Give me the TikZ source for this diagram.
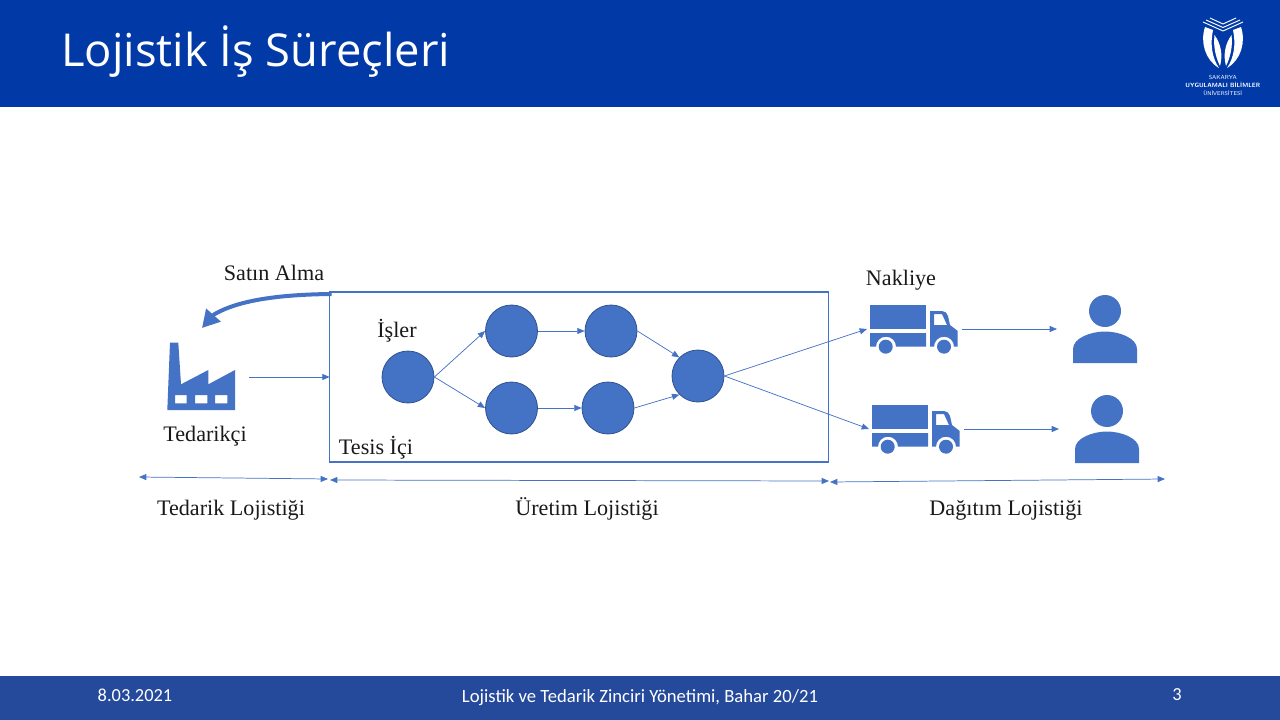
\documentclass[tikz,border=0pt]{standalone}
\usepackage{fontspec}
\setmainfont{Liberation Serif}
\newfontfamily\titlefont{Open Sans}
\newfontfamily\footfont{Carlito}
\usetikzlibrary{arrows.meta, positioning}
\definecolor{sbublue}{RGB}{1,58,167}
\definecolor{footblue}{RGB}{37,74,155}
\definecolor{lojblue}{RGB}{68,114,196}
\definecolor{lojdark}{RGB}{47,82,143}
\tikzset{
  is/.style={circle, fill=lojblue, draw=lojdark, line width=0.6pt, minimum size=39pt, inner sep=0pt},
  icon/.style={minimum width=#1, inner sep=0pt, outer sep=0pt},
  etiket/.style={font=\fontsize{16.6}{19}\selectfont, text=black!90, inner sep=0pt, anchor=base},
  ok/.style={lojblue, line width=0.55pt, -{Triangle[length=5.5pt, width=4.5pt]}},
  ciftok/.style={lojblue, line width=0.55pt, {Triangle[length=5.5pt, width=4.5pt]}-{Triangle[length=5.5pt, width=4.5pt]}},
  kamyon/.pic={
    \fill[lojblue] (0,0) rectangle (56,23.5);
    \fill[lojblue] (0,28) -- (56,28) -- (56,41.7) -- (26,41.7)
      arc[start angle=0, end angle=-180, radius=10] -- (5.7,41.7) -- (0,41.7) -- cycle;
    \fill[lojblue, even odd rule] (60,6) -- (72,6) .. controls (75,6) and (77,8) .. (78,11)
      -- (80,20) -- (87.7,26) -- (87.7,41.7) -- (84,41.7)
      arc[start angle=0, end angle=-180, radius=10] -- (60,41.7) -- cycle
      (64,9) -- (72,9) -- (77,20) -- (64,20) -- cycle;
    \fill[lojblue] (15.7,41.7) circle (7);
    \fill[lojblue] (74,41.7) circle (7);
  },
  kisi/.pic={
    \fill[lojblue] (0,-18) circle (16);
    \fill[lojblue] (-32,34) -- (32,34) -- (32,20) .. controls (32,9) and (14,2.5) .. (0,2.5)
      .. controls (-14,2.5) and (-32,9) .. (-32,20) -- cycle;
  }
}

\begin{document}
\begin{tikzpicture}[x=0.75pt, y=-0.75pt]
  \useasboundingbox (0,0) rectangle (1280,720);

  % Header and footer bands
  \fill[sbublue] (0,0) rectangle (1280,107.5);
  \fill[footblue] (0,676) rectangle (1280,720);
  \node[anchor=west, text=white, inner sep=0pt, font=\titlefont\fontsize{34}{40}\selectfont]
    (baslik) at (61,52) {Lojistik İş Süreçleri};
  \node[text=white, inner sep=0pt, font=\footfont\fontsize{13.8}{15}\selectfont] (tarih) at (135,695) {8.03.2021};
  \node[text=white, inner sep=0pt, font=\footfont\fontsize{14}{15}\selectfont] (ders) at (640,698) {Lojistik ve Tedarik Zinciri Yönetimi, Bahar 20/21};
  \node[text=white, inner sep=0pt, font=\footfont\fontsize{13.8}{15}\selectfont] (sayfa) at (1177,695) {3};

  % Logo
  \foreach \s in {1,-1} {
    \begin{scope}[shift={(1223,0)}, xscale=\s]
      \fill[white] (18,27) .. controls (23,42) and (18,60) .. (4,68)
        .. controls (11,58) and (13,44) .. (10,30) -- cycle;
      \fill[white] (8.5,35) .. controls (10,47) and (7,58) .. (3,66)
        .. controls (0,55) and (2,44) .. (8.5,35);
      \draw[white, line width=0.7pt] (0,31) -- (20,22) (0,27.5) -- (17,20) (0,24) -- (13,18);
    \end{scope}
  }
  \node[text=white, inner sep=0pt, font=\fontsize{4.4}{5}\selectfont\sffamily] (logoa) at (1222.7,77) {SAKARYA};
  \node[text=white, inner sep=0pt, font=\fontsize{4.6}{5}\selectfont\sffamily\bfseries] (logob) at (1222.7,85) {UYGULAMALI BİLİMLER};
  \node[text=white, inner sep=0pt, font=\fontsize{4.2}{5}\selectfont\sffamily] (logoc) at (1222.7,93) {ÜNİVERSİTESİ};

  % Facility box
  \node[draw=lojblue, line width=1pt, minimum width=374pt, minimum height=127.5pt, inner sep=0pt, outer sep=0pt]
    (tesis) at (579,377) {};

  % Supplier
  \node[icon=61.5pt, minimum height=52pt] (fabrika) at (208,377) {};
  \fill[lojblue, even odd rule] (167.3,410) -- (170,342.7) -- (178.3,342.7) -- (181,384.3) -- (208.3,370)
    -- (208.3,384.3) -- (235,370) -- (235,410) -- cycle
    (175,395) rectangle (186.7,403.3) (195,395) rectangle (207.3,403.3) (215,395) rectangle (227.3,403.3);
  \coordinate (tesisgiris) at (tesis.west |- fabrika);

  % Work steps
  \node[is] (is1) at (408,377) {};
  \node[is] (is2) at (511.5,331) {};
  \node[is] (is3) at (611,331) {};
  \node[is] (is4) at (511.5,408) {};
  \node[is] (is5) at (608,408) {};
  \node[is] (is6) at (698,376) {};

  % Trucks and customers
  \node[icon=71.25pt, minimum height=37pt] (kamyon1) at (914.5,329) {};
  \node[icon=71.25pt, minimum height=37pt] (kamyon2) at (916.5,429) {};
  \pic at (870,305) {kamyon};
  \pic at (872,405) {kamyon};
  \node[icon=72pt, minimum height=51pt] (kisi1) at (1105,329) {};
  \node[icon=72pt, minimum height=51pt] (kisi2) at (1107,429) {};
  \pic at (1105,329) {kisi};
  \pic at (1107,429) {kisi};

  % Flow arrows
  \draw[ok] (fabrika.east) -- (tesisgiris);
  \draw[ok] (is1.east) -- (is2.west);
  \draw[ok] (is1.east) -- (is4.west);
  \draw[ok] (is2.east) -- (is3.west);
  \draw[ok] (is4.east) -- (is5.west);
  \draw[ok] (is3.east) -- (is6.north west);
  \draw[ok] (is5.east) -- (is6.south west);
  \draw[ok] (is6.east) -- (kamyon1.west);
  \draw[ok] (is6.east) -- (kamyon2.west);
  \draw[ok] (kamyon1.east) -- (kisi1.west);
  \draw[ok] (kamyon2.east) -- (kisi2.west);

  % Purchasing arrow
  \coordinate (satinuc) at (202,328);
  \draw[lojblue, line width=3pt, -{Triangle[length=13pt, width=14pt]}] (tesis.north west) ++(2,2)
    .. controls (285,294.5) and (240,299) .. (214,314.5) -- (satinuc);

  % Logistics ranges
  \coordinate (t1) at (139,477);
  \coordinate (t2) at (328,479);
  \coordinate (u1) at (330,480);
  \coordinate (u2) at (829,481);
  \coordinate (d1) at (830,482);
  \coordinate (d2) at (1165,479);
  \draw[ciftok] (t1) -- (t2);
  \draw[ciftok] (u1) -- (u2);
  \draw[ciftok] (d1) -- (d2);

  % Labels
  \node[etiket] (satin) at (274,280.7) {Satın Alma};
  \node[etiket] (isler) at (397,337) {İşler};
  \node[etiket] (tedarikci) at (205,441.7) {Tedarikçi};
  \node[etiket] (tesisici) at (376,454) {Tesis İçi};
  \node[etiket] (nakliye) at (901,285) {Nakliye};
  \node[etiket] (tedarik) at (231,515.7) {Tedarik Lojistiği};
  \node[etiket] (uretim) at (587,515.7) {Üretim Lojistiği};
  \node[etiket] (dagitim) at (1006,515.7) {Dağıtım Lojistiği};
\end{tikzpicture}
\end{document}
